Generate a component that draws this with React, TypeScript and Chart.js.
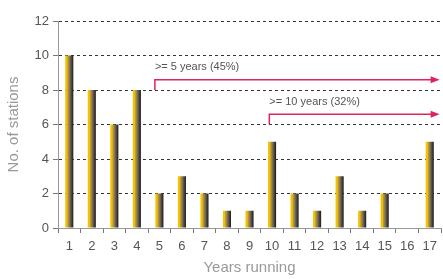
import React, { useEffect, useRef } from "react";
import { Chart, registerables } from "chart.js";

Chart.register(...registerables);

const categories = ["1","2","3","4","5","6","7","8","9","10","11","12","13","14","15","16","17"];
const stations = [10, 8, 6, 8, 2, 3, 2, 1, 1, 5, 2, 1, 3, 1, 2, 0, 5];
const yTicks = [0, 2, 4, 6, 8, 10, 12];
const annotations = [
  { label: ">= 5 years (45%)", xStart: 3.8, yStart: 8, yLine: 8.6, yText: 9.35, xEnd: 16.35 },
  { label: ">= 10 years (32%)", xStart: 8.88, yStart: 6, yLine: 6.6, yText: 7.3, xEnd: 16.35 },
];

const FONT = "'Liberation Sans', Arial, sans-serif";
const RED = "#e0245a";

const annotationPlugin = {
  id: "arrows",
  afterDatasetsDraw(chart: any) {
    const { ctx, scales } = chart;
    const xs = scales.x, ys = scales.y;
    ctx.save();
    annotations.forEach((a) => {
      const x0 = xs.getPixelForValue(a.xStart);
      const y0 = ys.getPixelForValue(a.yStart);
      const y1 = ys.getPixelForValue(a.yLine);
      const x1 = xs.getPixelForValue(a.xEnd);
      ctx.strokeStyle = RED;
      ctx.lineWidth = 1.5;
      ctx.beginPath();
      ctx.moveTo(x0, y0);
      ctx.lineTo(x0, y1);
      ctx.lineTo(x1 - 6, y1);
      ctx.stroke();
      ctx.fillStyle = RED;
      ctx.beginPath();
      ctx.moveTo(x1 + 2, y1);
      ctx.lineTo(x1 - 7, y1 - 3.5);
      ctx.lineTo(x1 - 7, y1 + 3.5);
      ctx.closePath();
      ctx.fill();
      ctx.fillStyle = "#555";
      ctx.font = "11px " + FONT;
      ctx.textAlign = "left";
      ctx.textBaseline = "middle";
      ctx.fillText(a.label, x0, ys.getPixelForValue(a.yText));
    });
    ctx.restore();
  },
};

export default function App() {
  const ref = useRef<HTMLCanvasElement>(null);
  useEffect(() => {
    const canvas = ref.current!;
    const chart = new Chart(canvas, {
      type: "bar",
      data: {
        labels: categories,
        datasets: [
          {
            data: stations,
            backgroundColor: (c: any) => {
              const ch = c.chart;
              const xs = ch.scales && ch.scales.x;
              if (!xs || c.dataIndex === undefined) return "#8a7a50";
              const cx = xs.getPixelForValue(c.dataIndex);
              if (!Number.isFinite(cx)) return "#8a7a50";
              const g = ch.ctx.createLinearGradient(cx - 4, 0, cx + 4, 0);
              g.addColorStop(0, "#f7c400");
              g.addColorStop(0.22, "#f2bf00");
              g.addColorStop(0.3, "#c9a22a");
              g.addColorStop(0.5, "#8d7d55");
              g.addColorStop(0.7, "#5e5648");
              g.addColorStop(1, "#1a1a1a");
              return g;
            },
            borderWidth: 0,
            barPercentage: 0.36,
            categoryPercentage: 1,
          },
        ],
      },
      options: {
        animation: false,
        responsive: false,
        maintainAspectRatio: false,
        layout: { padding: { top: 21, right: 1, left: 0, bottom: 0 } },
        plugins: { legend: { display: false }, tooltip: { enabled: false } },
        scales: {
          x: {
            grid: {
              display: true,
              drawOnChartArea: false,
              drawTicks: true,
              tickLength: 5,
              color: "#777",
              offset: true,
            },
            border: { color: "#999", width: 1 },
            ticks: { color: "#555", font: { size: 13, family: FONT }, padding: 6, maxRotation: 0 },
            title: {
              display: true,
              text: "Years running",
              color: "#999",
              font: { size: 15, family: FONT },
              padding: { top: 2, bottom: 2 },
            },
            afterFit: (s: any) => { s.height = 51; },
          },
          y: {
            min: 0,
            max: 12,
            afterBuildTicks: (s: any) => { s.ticks = yTicks.map((v) => ({ value: v })); },
            grid: {
              color: "#333",
              tickLength: 5,
              tickColor: "#777",
              lineWidth: 1,
            },
            border: { color: "#999", width: 1, dash: [3, 3] },
            ticks: { color: "#555", font: { size: 13, family: FONT }, padding: 4 },
            title: {
              display: true,
              text: "No. of stations",
              color: "#999",
              font: { size: 15, family: FONT },
              padding: { top: 5, bottom: 0 },
            },
            afterFit: (s: any) => { s.width = 58; },
          },
        },
      },
      plugins: [annotationPlugin],
    } as any);
    return () => chart.destroy();
  }, []);
  return (
    <div style={{ position: "fixed", left: 0, top: 0, width: 443, height: 279, background: "#fff" }}>
      <canvas ref={ref} width={443} height={279} style={{ width: 443, height: 279 }} />
    </div>
  );
}
